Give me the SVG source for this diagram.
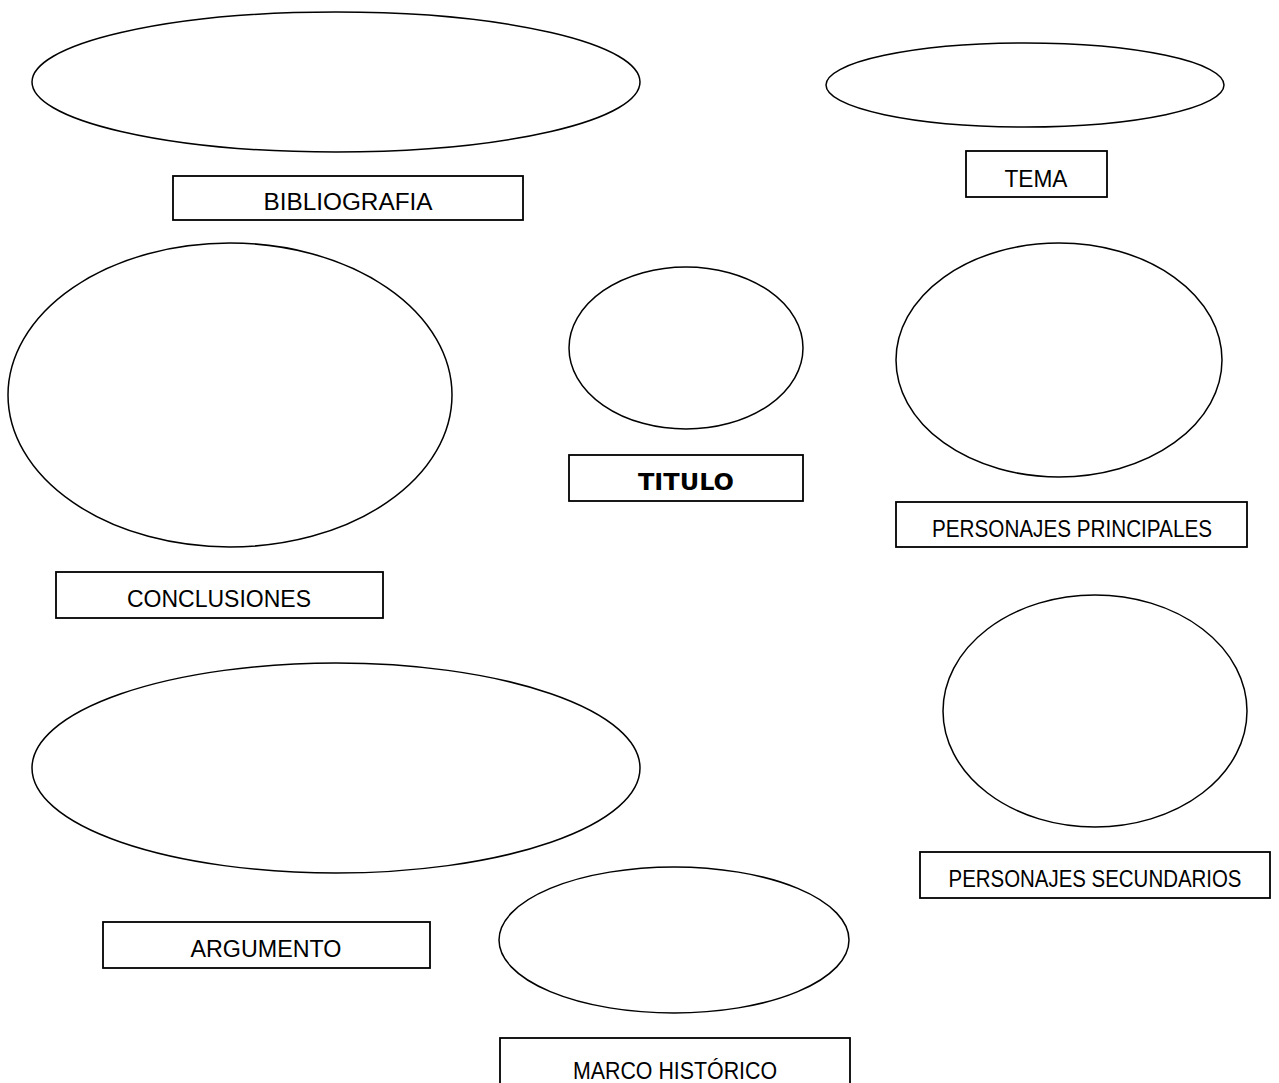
<svg xmlns="http://www.w3.org/2000/svg" width="1279" height="1083" viewBox="0 0 1279 1083">
<style>
.e{fill:#fff;stroke:#000;stroke-width:1.5}
.b{fill:#fff;stroke:#000;stroke-width:1.8}
.t{font-family:"Liberation Sans",Arial,sans-serif;font-size:23px;fill:#000;text-anchor:middle}
.tb{font-family:"DejaVu Sans",Verdana,sans-serif;font-size:23px;font-weight:bold;fill:#000;text-anchor:middle}
</style>
<rect width="1279" height="1083" fill="#fff"/>
<g id="connectors"></g>
<g id="bibliografia">
<ellipse class="e" cx="336" cy="82" rx="304" ry="70"/>
<rect class="b" x="173" y="176" width="350" height="44"/>
<text class="t" x="348" y="210" textLength="169" lengthAdjust="spacingAndGlyphs">BIBLIOGRAFIA</text>
</g>
<g id="tema">
<ellipse class="e" cx="1025" cy="85" rx="199" ry="42"/>
<rect class="b" x="966" y="151" width="141" height="46"/>
<text class="t" x="1036" y="187" textLength="63" lengthAdjust="spacingAndGlyphs">TEMA</text>
</g>
<g id="conclusiones">
<ellipse class="e" cx="230" cy="395" rx="222" ry="152"/>
<rect class="b" x="56" y="572" width="327" height="46"/>
<text class="t" x="219" y="607" textLength="184" lengthAdjust="spacingAndGlyphs">CONCLUSIONES</text>
</g>
<g id="titulo">
<ellipse class="e" cx="686" cy="348" rx="117" ry="81"/>
<rect class="b" x="569" y="455" width="234" height="46"/>
<text class="tb" x="686" y="490" textLength="96" lengthAdjust="spacingAndGlyphs">TITULO</text>
</g>
<g id="personajes-principales">
<ellipse class="e" cx="1059" cy="360" rx="163" ry="117"/>
<rect class="b" x="896" y="502" width="351" height="45"/>
<text class="t" x="1072" y="537" textLength="280" lengthAdjust="spacingAndGlyphs">PERSONAJES PRINCIPALES</text>
</g>
<g id="personajes-secundarios">
<ellipse class="e" cx="1095" cy="711" rx="152" ry="116"/>
<rect class="b" x="920" y="852" width="350" height="46"/>
<text class="t" x="1095" y="887" textLength="293" lengthAdjust="spacingAndGlyphs">PERSONAJES SECUNDARIOS</text>
</g>
<g id="argumento">
<ellipse class="e" cx="336" cy="768" rx="304" ry="105"/>
<rect class="b" x="103" y="922" width="327" height="46"/>
<text class="t" x="266" y="957" textLength="151" lengthAdjust="spacingAndGlyphs">ARGUMENTO</text>
</g>
<g id="marco-historico">
<ellipse class="e" cx="674" cy="940" rx="175" ry="73"/>
<rect class="b" x="500" y="1038" width="350" height="60"/>
<text class="t" x="675" y="1079" textLength="204" lengthAdjust="spacingAndGlyphs">MARCO HISTÓRICO</text>
</g>
</svg>
